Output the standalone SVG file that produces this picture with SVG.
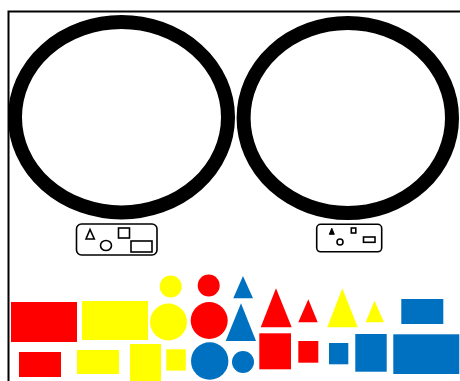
<svg xmlns="http://www.w3.org/2000/svg" width="460" height="381" viewBox="0 0 460 381">
<style>
.ring{fill:none;stroke:#000;stroke-width:14}
.leg{fill:#fff;stroke:#000;stroke-width:1.6}
.r{fill:#FF0000}
.y{fill:#FFFF00}
.b{fill:#0070C0}
</style>
<rect width="460" height="381" fill="#fff"/>
<path d="M8.5,381 V11.5 H460" fill="none" stroke="#000" stroke-width="2"/>
<g id="ring1"><ellipse class="ring" cx="121.5" cy="117.2" rx="106.5" ry="95.2"/></g>
<g id="ring2"><ellipse class="ring" cx="347.8" cy="118" rx="104.2" ry="95"/></g>
<g id="legend1">
<rect class="leg" x="76.5" y="224" width="80.5" height="31" rx="5"/>
<polygon class="leg" points="90,229.5 86,239 94.3,239"/>
<ellipse class="leg" cx="106" cy="245.5" rx="5.5" ry="5"/>
<rect class="leg" x="118.5" y="228" width="11" height="10"/>
<rect class="leg" x="131" y="241" width="21" height="11"/>
</g>
<g id="legend2">
<rect class="leg" x="316.7" y="224.3" width="65" height="27.5" rx="4"/>
<polygon points="331.8,228.3 329.3,234.3 334.3,234.3" fill="#000" stroke="#000" stroke-width="1"/>
<circle class="leg" cx="340" cy="242" r="3"/>
<rect class="leg" x="351.3" y="228" width="4.5" height="5"/>
<rect class="leg" x="363.5" y="237" width="11.5" height="5.3"/>
</g>
<g id="shapes">
<rect class="r" x="11" y="302" width="66" height="40"/>
<rect class="y" x="82" y="301" width="66" height="39"/>
<circle class="y" cx="168.5" cy="322" r="18.5"/>
<circle class="y" cx="170.7" cy="286.5" r="11"/>
<circle class="r" cx="208.7" cy="285.5" r="11"/>
<circle class="r" cx="209.2" cy="320.5" r="18.5"/>
<rect class="r" x="19" y="352" width="42" height="25"/>
<rect class="y" x="77" y="350" width="42" height="24"/>
<rect class="y" x="130" y="344" width="31" height="40"/>
<rect class="y" x="166.3" y="349.3" width="19.5" height="21.3"/>
<circle class="b" cx="209.7" cy="361" r="18.7"/>
<circle class="b" cx="243" cy="362" r="11"/>
<polygon class="b" points="243,276 233.3,298.3 253,298.3"/>
<polygon class="b" points="241,303.3 225.7,341 256,341"/>
<polygon class="r" points="276,288.3 260.7,327.3 291.7,327.3"/>
<polygon class="r" points="308.3,299.3 298.3,322.3 317.7,322.3"/>
<polygon class="y" points="342.3,288.3 327.3,327.3 357.7,327.3"/>
<polygon class="y" points="374.5,300.7 365.7,322.3 384,322.3"/>
<rect class="b" x="401.3" y="299" width="42" height="25"/>
<rect class="r" x="259.3" y="333.3" width="31.7" height="36"/>
<rect class="r" x="298.3" y="341" width="20" height="21.7"/>
<rect class="b" x="329" y="343" width="19.3" height="21.3"/>
<rect class="b" x="355.3" y="334" width="31.4" height="37.7"/>
<rect class="b" x="393.3" y="334.3" width="66" height="39.7"/>
</g>
</svg>
